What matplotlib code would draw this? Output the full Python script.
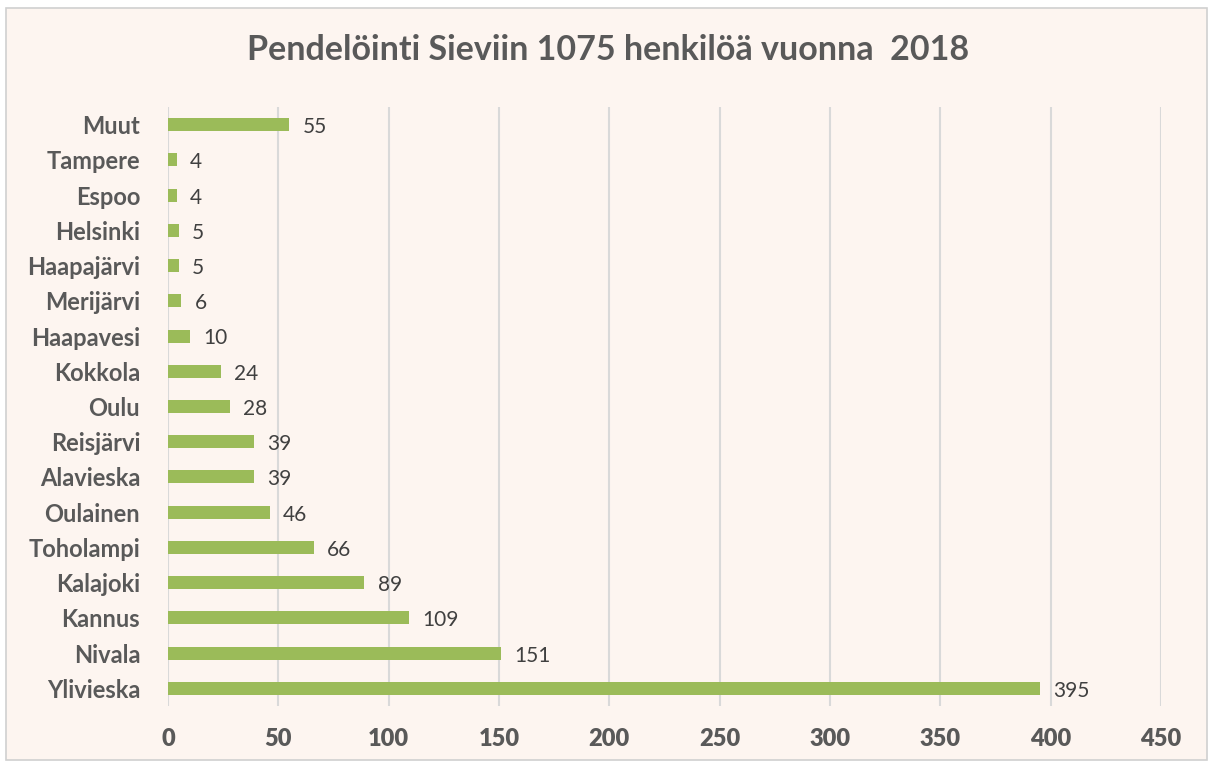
import matplotlib
matplotlib.use("Agg")
import matplotlib.pyplot as plt
from matplotlib.patches import Rectangle

# categories listed top to bottom as in the chart
places = ['Muut', 'Tampere', 'Espoo', 'Helsinki', 'Haapajärvi', 'Merijärvi',
          'Haapavesi', 'Kokkola', 'Oulu', 'Reisjärvi', 'Alavieska', 'Oulainen',
          'Toholampi', 'Kalajoki', 'Kannus', 'Nivala', 'Ylivieska']
commuters = [55, 4, 4, 5, 5, 6, 10, 24, 28, 39, 39, 46, 66, 89, 109, 151, 395]
x_ticks = [0, 50, 100, 150, 200, 250, 300, 350, 400, 450]

BG = '#FDF5F0'
GREEN = '#9BBB59'
GRID = '#D9D9D9'
TXT = '#595959'

plt.rcParams.update({'font.family': ['Lato', 'DejaVu Sans']})

fig = plt.figure(figsize=(12.1, 7.65), dpi=100)
fig.patch.set_facecolor('white')
# chart area with thin gray border
fig.patches.append(Rectangle((6 / 1210, 1 - 760 / 765), 1201 / 1210, 752 / 765,
                             transform=fig.transFigure, facecolor=BG,
                             edgecolor='#D0D0D0', linewidth=1.2, zorder=-5))

ax = fig.add_axes([168 / 1210, 1 - 706 / 765, 993 / 1210, 599 / 765])
ax.set_facecolor('none')

y = list(range(len(places)))
ax.barh(y, commuters, height=0.37, color=GREEN, zorder=3)
for yi, v in zip(y, commuters):
    ax.text(v + 6, yi + 0.07, str(v), va='center', ha='left',
            fontsize=15, color='#404040')

ax.set_xlim(0, 450)
ax.set_ylim(len(places) - 0.5, -0.5)
ax.set_xticks(x_ticks)
ax.set_xticklabels([str(t) for t in x_ticks], fontweight='heavy')
ax.set_yticks(y)
ax.set_yticklabels(places, fontweight='bold')
ax.xaxis.grid(True, color=GRID, linewidth=1.5, zorder=0)
ax.tick_params(axis='both', length=0, labelcolor=TXT, labelsize=17)
ax.tick_params(axis='x', pad=16)
ax.tick_params(axis='y', pad=20)
for s in ax.spines.values():
    s.set_visible(False)

fig.text(608 / 1210, 1 - 50 / 765, 'Pendelöinti Sieviin 1075 henkilöä vuonna  2018',
         ha='center', va='center', fontsize=24.5, fontweight='bold', color=TXT)

fig.savefig('out.png', dpi=100, facecolor=fig.get_facecolor())
